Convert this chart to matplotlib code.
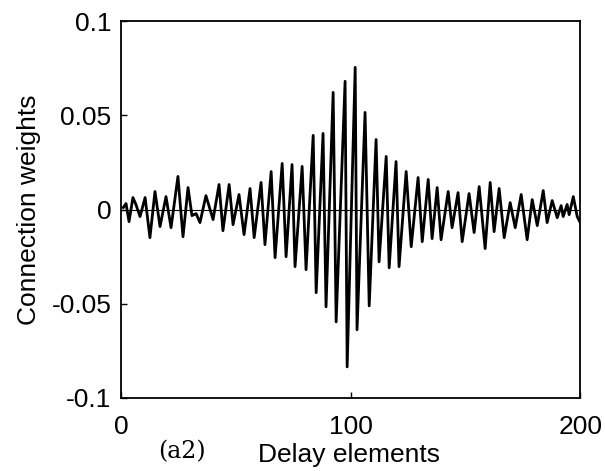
import numpy as np
import matplotlib.pyplot as plt

plt.rc('font', **{'family': 'sans-serif', 'sans-serif': ['Liberation Sans', 'DejaVu Sans']})

# peaks and troughs of the weight curve
delay = [1.0, 2.2, 3.5, 5.2, 6.5, 8.3, 10.5, 12.6, 14.8, 17.0,
         19.6, 21.8, 24.8, 27.0, 29.2, 30.9, 32.7, 34.4, 37.0, 40.1,
         42.7, 44.4, 47.1, 48.8, 51.4, 53.6, 56.2, 58.0, 61.0, 62.7,
         65.4, 67.1, 70.2, 71.9, 74.5, 75.8, 78.9, 80.6, 83.7, 85.0,
         88.0, 89.3, 92.4, 93.7, 97.6, 98.5, 102.0, 102.8, 106.3, 108.1,
         111.1, 112.4, 115.5, 116.8, 119.8, 121.1, 124.2, 126.4, 129.4, 131.2,
         133.8, 135.5, 137.7, 139.4, 142.5, 144.2, 146.8, 148.6, 151.6, 153.8,
         156.0, 158.6, 160.8, 162.5, 164.7, 166.9, 169.5, 171.7, 174.3, 176.9,
         179.1, 181.3, 183.9, 185.6, 187.8, 190.0, 191.7, 192.6, 194.3, 195.2,
         197.0, 198.7, 200.0]
weight = [0.0011, 0.0032, -0.0064, 0.0064, 0.0027, -0.0037, 0.0064, -0.0149, 0.0096, -0.0090,
          0.0069, -0.0096, 0.0176, -0.0144, 0.0117, -0.0032, -0.0021, -0.0069, 0.0074, -0.0053,
          0.0133, -0.0112, 0.0133, -0.0080, 0.0080, -0.0133, 0.0112, -0.0149, 0.0144, -0.0186,
          0.0202, -0.0255, 0.0245, -0.0250, 0.0239, -0.0303, 0.0229, -0.0319, 0.0394, -0.0441,
          0.0404, -0.0516, 0.0622, -0.0596, 0.0681, -0.0835, 0.0755, -0.0638, 0.0516, -0.0511,
          0.0372, -0.0277, 0.0282, -0.0309, 0.0255, -0.0303, 0.0202, -0.0197, 0.0170, -0.0170,
          0.0160, -0.0154, 0.0117, -0.0160, 0.0096, -0.0096, 0.0090, -0.0170, 0.0085, -0.0122,
          0.0122, -0.0207, 0.0144, -0.0117, 0.0112, -0.0149, 0.0037, -0.0096, 0.0080, -0.0160,
          0.0053, -0.0085, 0.0101, -0.0069, 0.0048, -0.0043, 0.0021, -0.0037, 0.0027, -0.0027,
          0.0069, -0.0037, -0.0069]

xticks = [0, 100, 200]
xticklabels = ['0', '100', '200']
yticks = [-0.1, -0.05, 0, 0.05, 0.1]
yticklabels = ['-0.1', '-0.05', '0', '0.05', '0.1']

fig = plt.figure(figsize=(6.05, 4.71), dpi=100)
ax = fig.add_axes([0.200, 0.155, 0.759, 0.80])

ax.axhline(0, color='black', linewidth=0.8)
ax.plot(delay, weight, color='black', linewidth=2.0)

ax.set_xlim(0, 200)
ax.set_ylim(-0.1, 0.1)
ax.set_xticks(xticks)
ax.set_xticklabels(xticklabels)
ax.set_yticks(yticks)
ax.set_yticklabels(yticklabels)
ax.tick_params(direction='in', length=4, width=1, labelsize=19, pad=12)
ax.tick_params(axis='y', pad=7)
for s in ax.spines.values():
    s.set_linewidth(1.3)

fig.text(0.048, 0.555, 'Connection weights', rotation=90, fontsize=19,
         ha='center', va='center')
fig.text(0.577, 0.033, 'Delay elements', fontsize=19, ha='center', va='center')
fig.text(0.300, 0.040, '(a2)', fontsize=17, ha='center', va='center',
         family='DejaVu Serif')

plt.savefig('out.png', dpi=100)
